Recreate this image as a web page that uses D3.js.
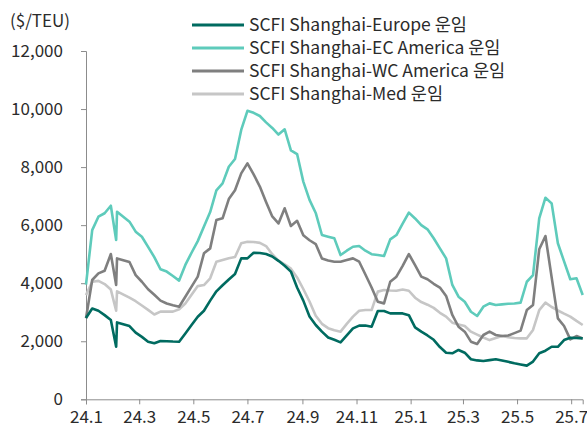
<!DOCTYPE html>
<html>
<head>
<meta charset="utf-8">
<script src="https://cdn.jsdelivr.net/npm/d3@7"></script>
<style>
    body { margin: 0; background: #fff; }
    text { font-family: "Noto Sans CJK KR", "Noto Sans", sans-serif; fill: #2b2b2b; }
</style>
</head>
<body>
<div id="chart"></div>
<script>

var w = 587,
    h = 428;

// weekly sample dates (one extra point in early Feb 2024, no print for lunar new year week)
var dates = [
    "2024-01-01", "2024-01-08", "2024-01-15", "2024-01-22", "2024-01-29", "2024-02-04", "2024-02-05",
    "2024-02-19", "2024-02-26", "2024-03-04", "2024-03-11", "2024-03-18", "2024-03-25", "2024-04-01",
    "2024-04-08", "2024-04-15", "2024-04-22", "2024-04-29", "2024-05-06", "2024-05-13", "2024-05-20",
    "2024-05-27", "2024-06-03", "2024-06-10", "2024-06-17", "2024-06-24", "2024-07-01", "2024-07-08",
    "2024-07-15", "2024-07-22", "2024-07-29", "2024-08-05", "2024-08-12", "2024-08-19", "2024-08-26",
    "2024-09-02", "2024-09-09", "2024-09-16", "2024-09-23", "2024-09-30", "2024-10-07", "2024-10-14",
    "2024-10-21", "2024-10-28", "2024-11-04", "2024-11-11", "2024-11-18", "2024-11-25", "2024-12-02",
    "2024-12-09", "2024-12-16", "2024-12-23", "2024-12-30", "2025-01-06", "2025-01-13", "2025-01-20",
    "2025-01-27", "2025-02-03", "2025-02-10", "2025-02-17", "2025-02-24", "2025-03-03", "2025-03-10",
    "2025-03-17", "2025-03-24", "2025-03-31", "2025-04-07", "2025-04-14", "2025-04-21", "2025-04-28",
    "2025-05-05", "2025-05-12", "2025-05-19", "2025-05-26", "2025-06-02", "2025-06-09", "2025-06-16",
    "2025-06-23", "2025-06-30", "2025-07-07", "2025-07-14"
];

// SCFI rates, $/TEU
var europe = [
    2800, 3130, 3050, 2900, 2730, 1810, 2650,
    2525, 2295, 2150, 1985, 1930, 2010, 2000,
    1990, 1985, 2270, 2560, 2845, 3050, 3400,
    3720, 3930, 4130, 4320, 4855, 4855, 5050,
    5040, 5005, 4920, 4770, 4600, 4400, 3850,
    3400, 2850, 2560, 2330, 2130, 2050, 1960,
    2200, 2445, 2540, 2540, 2500, 3040, 3040,
    2960, 2960, 2960, 2900, 2480, 2330, 2200,
    2050, 1800, 1605, 1585, 1700, 1605, 1380,
    1340, 1320, 1350, 1380, 1340, 1290, 1240,
    1200, 1160, 1300, 1585, 1675, 1810, 1810,
    2040, 2120, 2110, 2100
];

var ecAmerica = [
    3950, 5830, 6290, 6410, 6670, 5490, 6460,
    6120, 5775, 5600, 5250, 4900, 4480, 4400,
    4250, 4090, 4630, 5050, 5450, 5950, 6450,
    7200, 7440, 8010, 8280, 9280, 9940, 9870,
    9760, 9540, 9350, 9120, 9300, 8580, 8450,
    7500, 6870, 6420, 5660, 5600, 5545, 4970,
    5120, 5255, 5280, 5120, 5000, 4970, 4935,
    5510, 5660, 6050, 6430, 6230, 6000, 5855,
    5550, 5200, 4855, 3940, 3535, 3360, 3015,
    2870, 3190, 3305, 3250, 3270, 3290, 3300,
    3330, 4050, 4280, 6235, 6945, 6750, 5375,
    4750, 4135, 4170, 3595
];

var wcAmerica = [
    2790, 4110, 4340, 4430, 5005, 3940, 4855,
    4730, 4280, 4050, 3790, 3600, 3400, 3300,
    3240, 3190, 3535, 3880, 4225, 5030, 5200,
    6175, 6235, 6900, 7200, 7785, 8130, 7750,
    7330, 6800, 6300, 6060, 6580, 5970, 6150,
    5650, 5480, 5350, 4850, 4780, 4740, 4740,
    4800, 4855, 4740, 4300, 3850, 3360, 3305,
    4050, 4225, 4600, 5005, 4620, 4225, 4135,
    3980, 3850, 3560, 2905, 2500, 2330, 1985,
    1905, 2215, 2330, 2215, 2180, 2200, 2280,
    2365, 3075, 3250, 5170, 5625, 4200, 2790,
    2525, 2065, 2180, 2100
];

var med = [
    3590, 4050, 4080, 3970, 3780, 3050, 3720,
    3500, 3380, 3230, 3080, 2920, 3020, 3020,
    3020, 3100, 3300, 3600, 3900, 3935, 4170,
    4740, 4800, 4860, 4900, 5375, 5430, 5420,
    5390, 5280, 5000, 4780, 4650, 4500, 4200,
    3800, 3370, 2880, 2600, 2450, 2380, 2330,
    2600, 2850, 3050, 3075, 3075, 3710, 3765,
    3750, 3740, 3780, 3740, 3500, 3350, 3260,
    3150, 2980, 2850, 2640, 2580, 2525, 2330,
    2230, 2130, 2040, 2110, 2180, 2140, 2110,
    2100, 2100, 2390, 3075, 3330, 3180, 3060,
    2950, 2850, 2700, 2560
];

var seriesNames = [
    "SCFI Shanghai-Europe 운임",
    "SCFI Shanghai-EC America 운임",
    "SCFI Shanghai-WC America 운임",
    "SCFI Shanghai-Med 운임"
];

var seriesColors = ["#006b60", "#5ecbbb", "#7f7f7f", "#c6c6c6"];

var yTicks = [0, 2000, 4000, 6000, 8000, 10000, 12000];

var unitLabel = "($/TEU)";


var parse = d3.timeParse("%Y-%m-%d");
var x_dates = dates.map(parse);

var series = [europe, ecAmerica, wcAmerica, med].map(function(vals, i) {
    return {
        name: seriesNames[i],
        color: seriesColors[i],
        values: vals.map(function(v, j) { return {date: x_dates[j], value: v}; })
    };
});

var svg = d3.select("#chart").append("svg")
    .attr("width", w)
    .attr("height", h);

// scales
var x = d3.scaleTime()
    .domain(d3.extent(x_dates))
    .range([86, 582.7]);

var y = d3.scaleLinear()
    .domain([0, 12000])
    .range([399.3, 51]);

// y axis
var yAxis = svg.append("g")
    .attr("transform", "translate(86,0)")
    .call(d3.axisLeft(y)
        .tickValues(yTicks)
        .tickSize(5)
        .tickPadding(18)
        .tickFormat(d3.format(",")));

// x axis, one tick every two months
var xAxis = svg.append("g")
    .attr("transform", "translate(0,399.3)")
    .call(d3.axisBottom(x)
        .ticks(d3.timeMonth.every(2))
        .tickSize(5)
        .tickPadding(5)
        .tickFormat(d3.timeFormat("%y.%-m")));

[yAxis, xAxis].forEach(function(ax) {
    ax.select(".domain").attr("stroke", "#8c8c8c");
    ax.selectAll(".tick line").attr("stroke", "#8c8c8c");
    ax.selectAll(".tick text")
        .style("font-size", "17px")
        .attr("fill", "#2b2b2b");
});

xAxis.selectAll(".tick text").attr("dy", "0.78em");

// unit label
svg.append("text")
    .attr("x", 10)
    .attr("y", 27)
    .style("font-size", "17px")
    .text(unitLabel);

// lines
var line = d3.line()
    .x(function(d) { return x(d.date); })
    .y(function(d) { return y(d.value); });

svg.append("g")
    .selectAll("path")
    .data(series.slice().reverse())
    .enter().append("path")
        .attr("fill", "none")
        .attr("stroke", function(d) { return d.color; })
        .attr("stroke-width", 2.6)
        .attr("stroke-linejoin", "round")
        .attr("d", function(d) { return line(d.values); });

// legend
var legend = svg.append("g")
    .attr("transform", "translate(192,25)");

series.forEach(function(s, i) {
    legend.append("line")
        .attr("x1", 0)
        .attr("x2", 52)
        .attr("y1", i * 23)
        .attr("y2", i * 23)
        .attr("stroke", s.color)
        .attr("stroke-width", 3);

    legend.append("text")
        .attr("x", 57)
        .attr("y", i * 23)
        .attr("dy", "0.35em")
        .style("font-size", "17.5px")
        .text(s.name);
});

</script>
</body>
</html>
